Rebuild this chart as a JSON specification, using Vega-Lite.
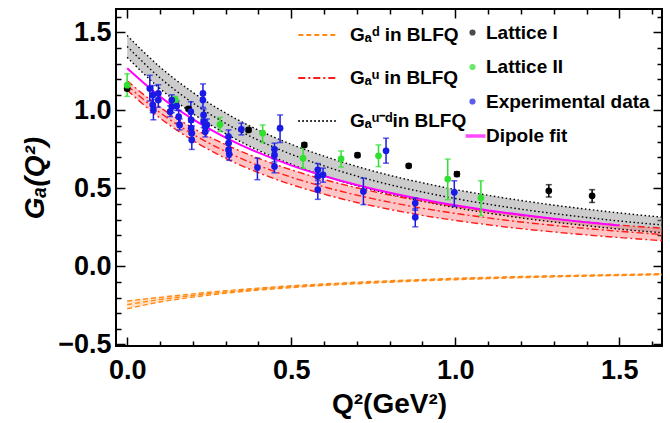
{
  "$schema": "https://vega.github.io/schema/vega-lite/v6.json",
  "width": 546,
  "height": 337,
  "autosize": {"type": "none"},
  "padding": {"left": 116, "top": 9, "right": 8, "bottom": 77},
  "background": "white",
  "config": {
    "view": {"stroke": "black", "strokeWidth": 2},
    "font": "Liberation Sans"
  },
  "datasets": {
    "bands": [
      {"curve": "u-d", "q2": 0, "lo": 1.34, "mid": 1.41, "hi": 1.48},
      {"curve": "u-d", "q2": 0.1, "lo": 1.14, "mid": 1.209, "hi": 1.278},
      {"curve": "u-d", "q2": 0.2, "lo": 0.98, "mid": 1.048, "hi": 1.116},
      {"curve": "u-d", "q2": 0.3, "lo": 0.851, "mid": 0.917, "hi": 0.983},
      {"curve": "u-d", "q2": 0.4, "lo": 0.744, "mid": 0.809, "hi": 0.874},
      {"curve": "u-d", "q2": 0.5, "lo": 0.655, "mid": 0.719, "hi": 0.783},
      {"curve": "u-d", "q2": 0.6, "lo": 0.581, "mid": 0.644, "hi": 0.707},
      {"curve": "u-d", "q2": 0.7, "lo": 0.517, "mid": 0.579, "hi": 0.641},
      {"curve": "u-d", "q2": 0.8, "lo": 0.464, "mid": 0.524, "hi": 0.584},
      {"curve": "u-d", "q2": 0.9, "lo": 0.418, "mid": 0.477, "hi": 0.536},
      {"curve": "u-d", "q2": 1.0, "lo": 0.377, "mid": 0.435, "hi": 0.493},
      {"curve": "u-d", "q2": 1.1, "lo": 0.342, "mid": 0.399, "hi": 0.456},
      {"curve": "u-d", "q2": 1.2, "lo": 0.311, "mid": 0.367, "hi": 0.423},
      {"curve": "u-d", "q2": 1.3, "lo": 0.285, "mid": 0.339, "hi": 0.393},
      {"curve": "u-d", "q2": 1.4, "lo": 0.261, "mid": 0.314, "hi": 0.367},
      {"curve": "u-d", "q2": 1.5, "lo": 0.239, "mid": 0.291, "hi": 0.343},
      {"curve": "u-d", "q2": 1.63, "lo": 0.216, "mid": 0.266, "hi": 0.316},
      {"curve": "u", "q2": 0, "lo": 1.13, "mid": 1.16, "hi": 1.19},
      {"curve": "u", "q2": 0.1, "lo": 0.951, "mid": 0.986, "hi": 1.021},
      {"curve": "u", "q2": 0.2, "lo": 0.808, "mid": 0.848, "hi": 0.888},
      {"curve": "u", "q2": 0.3, "lo": 0.693, "mid": 0.737, "hi": 0.781},
      {"curve": "u", "q2": 0.4, "lo": 0.601, "mid": 0.647, "hi": 0.693},
      {"curve": "u", "q2": 0.5, "lo": 0.525, "mid": 0.572, "hi": 0.619},
      {"curve": "u", "q2": 0.6, "lo": 0.463, "mid": 0.51, "hi": 0.557},
      {"curve": "u", "q2": 0.7, "lo": 0.41, "mid": 0.457, "hi": 0.504},
      {"curve": "u", "q2": 0.8, "lo": 0.366, "mid": 0.412, "hi": 0.458},
      {"curve": "u", "q2": 0.9, "lo": 0.327, "mid": 0.373, "hi": 0.419},
      {"curve": "u", "q2": 1.0, "lo": 0.295, "mid": 0.34, "hi": 0.385},
      {"curve": "u", "q2": 1.1, "lo": 0.267, "mid": 0.311, "hi": 0.355},
      {"curve": "u", "q2": 1.2, "lo": 0.242, "mid": 0.285, "hi": 0.328},
      {"curve": "u", "q2": 1.3, "lo": 0.221, "mid": 0.263, "hi": 0.305},
      {"curve": "u", "q2": 1.4, "lo": 0.202, "mid": 0.243, "hi": 0.284},
      {"curve": "u", "q2": 1.5, "lo": 0.185, "mid": 0.225, "hi": 0.265},
      {"curve": "u", "q2": 1.63, "lo": 0.165, "mid": 0.205, "hi": 0.245},
      {"curve": "d", "q2": 0, "lo": -0.272, "mid": -0.245, "hi": -0.222},
      {"curve": "d", "q2": 0.1, "lo": -0.228, "mid": -0.212, "hi": -0.198},
      {"curve": "d", "q2": 0.2, "lo": -0.197, "mid": -0.186, "hi": -0.176},
      {"curve": "d", "q2": 0.3, "lo": -0.172, "mid": -0.164, "hi": -0.156},
      {"curve": "d", "q2": 0.4, "lo": -0.152, "mid": -0.146, "hi": -0.139},
      {"curve": "d", "q2": 0.5, "lo": -0.136, "mid": -0.13, "hi": -0.124},
      {"curve": "d", "q2": 0.6, "lo": -0.122, "mid": -0.117, "hi": -0.112},
      {"curve": "d", "q2": 0.7, "lo": -0.111, "mid": -0.106, "hi": -0.101},
      {"curve": "d", "q2": 0.8, "lo": -0.101, "mid": -0.096, "hi": -0.092},
      {"curve": "d", "q2": 0.9, "lo": -0.092, "mid": -0.088, "hi": -0.084},
      {"curve": "d", "q2": 1.0, "lo": -0.085, "mid": -0.0805, "hi": -0.076},
      {"curve": "d", "q2": 1.1, "lo": -0.078, "mid": -0.074, "hi": -0.07},
      {"curve": "d", "q2": 1.2, "lo": -0.072, "mid": -0.068, "hi": -0.065},
      {"curve": "d", "q2": 1.3, "lo": -0.067, "mid": -0.063, "hi": -0.06},
      {"curve": "d", "q2": 1.4, "lo": -0.062, "mid": -0.059, "hi": -0.056},
      {"curve": "d", "q2": 1.5, "lo": -0.058, "mid": -0.055, "hi": -0.052},
      {"curve": "d", "q2": 1.63, "lo": -0.053, "mid": -0.05, "hi": -0.047}
    ],
    "dipole": [
      {"set": "Dipole fit", "q2": 0, "g": 1.27},
      {"set": "Dipole fit", "q2": 0.1, "g": 1.089},
      {"set": "Dipole fit", "q2": 0.2, "g": 0.944},
      {"set": "Dipole fit", "q2": 0.3, "g": 0.826},
      {"set": "Dipole fit", "q2": 0.4, "g": 0.729},
      {"set": "Dipole fit", "q2": 0.5, "g": 0.648},
      {"set": "Dipole fit", "q2": 0.6, "g": 0.58},
      {"set": "Dipole fit", "q2": 0.7, "g": 0.522},
      {"set": "Dipole fit", "q2": 0.8, "g": 0.472},
      {"set": "Dipole fit", "q2": 0.9, "g": 0.429},
      {"set": "Dipole fit", "q2": 1.0, "g": 0.392},
      {"set": "Dipole fit", "q2": 1.1, "g": 0.359},
      {"set": "Dipole fit", "q2": 1.2, "g": 0.331},
      {"set": "Dipole fit", "q2": 1.3, "g": 0.305},
      {"set": "Dipole fit", "q2": 1.4, "g": 0.283},
      {"set": "Dipole fit", "q2": 1.5, "g": 0.262}
    ],
    "pts": [
      {"set": "Lattice I", "q2": 0.0, "g": 1.14, "lo": 1.128, "hi": 1.152},
      {"set": "Lattice I", "q2": 0.187, "g": 1.01, "lo": 0.998, "hi": 1.022},
      {"set": "Lattice I", "q2": 0.37, "g": 0.875, "lo": 0.864, "hi": 0.886},
      {"set": "Lattice I", "q2": 0.54, "g": 0.779, "lo": 0.767, "hi": 0.791},
      {"set": "Lattice I", "q2": 0.702, "g": 0.713, "lo": 0.701, "hi": 0.725},
      {"set": "Lattice I", "q2": 0.858, "g": 0.645, "lo": 0.634, "hi": 0.656},
      {"set": "Lattice I", "q2": 1.005, "g": 0.592, "lo": 0.577, "hi": 0.607},
      {"set": "Lattice I", "q2": 1.285, "g": 0.485, "lo": 0.445, "hi": 0.524},
      {"set": "Lattice I", "q2": 1.417, "g": 0.453, "lo": 0.41, "hi": 0.492},
      {"set": "Lattice II", "q2": 0.0, "g": 1.162, "lo": 1.09, "hi": 1.235},
      {"set": "Lattice II", "q2": 0.147, "g": 1.066, "lo": 1.045, "hi": 1.09},
      {"set": "Lattice II", "q2": 0.283, "g": 0.91, "lo": 0.865, "hi": 0.955},
      {"set": "Lattice II", "q2": 0.413, "g": 0.854, "lo": 0.794, "hi": 0.907},
      {"set": "Lattice II", "q2": 0.536, "g": 0.694, "lo": 0.63, "hi": 0.762},
      {"set": "Lattice II", "q2": 0.652, "g": 0.69, "lo": 0.637, "hi": 0.74},
      {"set": "Lattice II", "q2": 0.766, "g": 0.709, "lo": 0.64, "hi": 0.779},
      {"set": "Lattice II", "q2": 0.977, "g": 0.56, "lo": 0.428, "hi": 0.688},
      {"set": "Lattice II", "q2": 1.078, "g": 0.439, "lo": 0.326, "hi": 0.549},
      {"set": "Experimental data", "q2": 0.069, "g": 1.14, "lo": 1.06, "hi": 1.225},
      {"set": "Experimental data", "q2": 0.078, "g": 1.098, "lo": 1.04, "hi": 1.16},
      {"set": "Experimental data", "q2": 0.078, "g": 1.035, "lo": 0.985, "hi": 1.085},
      {"set": "Experimental data", "q2": 0.08, "g": 1.003, "lo": 0.94, "hi": 1.07},
      {"set": "Experimental data", "q2": 0.095, "g": 1.109, "lo": 1.06, "hi": 1.165},
      {"set": "Experimental data", "q2": 0.095, "g": 1.066, "lo": 1.02, "hi": 1.11},
      {"set": "Experimental data", "q2": 0.131, "g": 0.992, "lo": 0.96, "hi": 1.03},
      {"set": "Experimental data", "q2": 0.136, "g": 1.066, "lo": 1.03, "hi": 1.1},
      {"set": "Experimental data", "q2": 0.136, "g": 1.024, "lo": 0.985, "hi": 1.06},
      {"set": "Experimental data", "q2": 0.151, "g": 1.028, "lo": 1.0, "hi": 1.06},
      {"set": "Experimental data", "q2": 0.157, "g": 0.96, "lo": 0.92, "hi": 1.0},
      {"set": "Experimental data", "q2": 0.16, "g": 0.907, "lo": 0.875, "hi": 0.945},
      {"set": "Experimental data", "q2": 0.194, "g": 0.992, "lo": 0.95, "hi": 1.055},
      {"set": "Experimental data", "q2": 0.195, "g": 0.939, "lo": 0.9, "hi": 0.98},
      {"set": "Experimental data", "q2": 0.195, "g": 0.886, "lo": 0.85, "hi": 0.925},
      {"set": "Experimental data", "q2": 0.197, "g": 0.854, "lo": 0.81, "hi": 0.9},
      {"set": "Experimental data", "q2": 0.197, "g": 0.811, "lo": 0.75, "hi": 0.86},
      {"set": "Experimental data", "q2": 0.231, "g": 1.109, "lo": 1.06, "hi": 1.17},
      {"set": "Experimental data", "q2": 0.231, "g": 1.066, "lo": 1.02, "hi": 1.11},
      {"set": "Experimental data", "q2": 0.233, "g": 0.971, "lo": 0.93, "hi": 1.01},
      {"set": "Experimental data", "q2": 0.233, "g": 0.928, "lo": 0.89, "hi": 0.97},
      {"set": "Experimental data", "q2": 0.238, "g": 0.896, "lo": 0.86, "hi": 0.935},
      {"set": "Experimental data", "q2": 0.238, "g": 0.864, "lo": 0.83, "hi": 0.9},
      {"set": "Experimental data", "q2": 0.243, "g": 0.907, "lo": 0.87, "hi": 0.945},
      {"set": "Experimental data", "q2": 0.309, "g": 0.832, "lo": 0.79, "hi": 0.875},
      {"set": "Experimental data", "q2": 0.309, "g": 0.79, "lo": 0.75, "hi": 0.83},
      {"set": "Experimental data", "q2": 0.309, "g": 0.747, "lo": 0.7, "hi": 0.79},
      {"set": "Experimental data", "q2": 0.311, "g": 0.72, "lo": 0.68, "hi": 0.76},
      {"set": "Experimental data", "q2": 0.348, "g": 0.879, "lo": 0.843, "hi": 0.918},
      {"set": "Experimental data", "q2": 0.397, "g": 0.634, "lo": 0.556, "hi": 0.694},
      {"set": "Experimental data", "q2": 0.449, "g": 0.751, "lo": 0.71, "hi": 0.79},
      {"set": "Experimental data", "q2": 0.449, "g": 0.715, "lo": 0.67, "hi": 0.76},
      {"set": "Experimental data", "q2": 0.449, "g": 0.641, "lo": 0.6, "hi": 0.69},
      {"set": "Experimental data", "q2": 0.466, "g": 0.886, "lo": 0.794, "hi": 0.971},
      {"set": "Experimental data", "q2": 0.581, "g": 0.619, "lo": 0.57, "hi": 0.66},
      {"set": "Experimental data", "q2": 0.581, "g": 0.577, "lo": 0.53, "hi": 0.62},
      {"set": "Experimental data", "q2": 0.581, "g": 0.492, "lo": 0.43, "hi": 0.55},
      {"set": "Experimental data", "q2": 0.597, "g": 0.587, "lo": 0.54, "hi": 0.63},
      {"set": "Experimental data", "q2": 0.72, "g": 0.481, "lo": 0.396, "hi": 0.566},
      {"set": "Experimental data", "q2": 0.789, "g": 0.741, "lo": 0.662, "hi": 0.822},
      {"set": "Experimental data", "q2": 0.878, "g": 0.406, "lo": 0.36, "hi": 0.438},
      {"set": "Experimental data", "q2": 0.878, "g": 0.315, "lo": 0.254, "hi": 0.37},
      {"set": "Experimental data", "q2": 0.997, "g": 0.475, "lo": 0.385, "hi": 0.549}
    ]
  },
  "resolve": {"axis": {"x": "independent", "y": "independent"}},
  "layer": [
    {
      "data": {"name": "bands"},
      "transform": [{"filter": "datum.curve == 'u-d'"}],
      "mark": {"type": "area", "color": "#9a9a9a", "opacity": 0.5, "interpolate": "monotone", "clip": true},
      "encoding": {
        "x": {"field": "q2", "type": "quantitative", "scale": {"domain": [-0.034, 1.63], "nice": false, "zero": false},
          "axis": {"orient": "bottom", "values": [0, 0.1, 0.2, 0.3, 0.4, 0.5, 0.6, 0.7, 0.8, 0.9, 1, 1.1, 1.2, 1.3, 1.4, 1.5, 1.6],
            "labelExpr": "abs(datum.value*2-round(datum.value*2))<0.001 ? format(datum.value,'.1f') : ''",
            "tickSize": {"condition": {"test": "abs(datum.value*2-round(datum.value*2))<0.001", "value": -9}, "value": -5},
            "tickWidth": 1.5, "tickColor": "black", "domain": false, "grid": false,
            "labelFont": "Liberation Sans", "labelFontSize": 27, "labelFontWeight": "bold", "labelColor": "black",
            "labelPadding": 20, "labelFlush": false, "labelOverlap": false, "labelBound": false,
            "title": "Q²(GeV²)", "titleFont": "Liberation Sans", "titleFontSize": 28, "titleFontWeight": "bold", "titleColor": "black", "titlePadding": 3}},
        "y": {"field": "lo", "type": "quantitative", "scale": {"domain": [-0.51, 1.65], "nice": false, "zero": false},
          "axis": {"orient": "left", "values": [-0.5, -0.4, -0.3, -0.2, -0.1, 0, 0.1, 0.2, 0.3, 0.4, 0.5, 0.6, 0.7, 0.8, 0.9, 1, 1.1, 1.2, 1.3, 1.4, 1.5, 1.6],
            "labelExpr": "abs(datum.value*2-round(datum.value*2))<0.001 ? format(datum.value,'.1f') : ''",
            "tickSize": {"condition": {"test": "abs(datum.value*2-round(datum.value*2))<0.001", "value": -9}, "value": -5},
            "tickWidth": 1.5, "tickColor": "black", "domain": false, "grid": false,
            "labelFont": "Liberation Sans", "labelFontSize": 27, "labelFontWeight": "bold", "labelColor": "black",
            "labelPadding": 14, "labelFlush": false, "labelOverlap": false, "labelBound": false,
            "title": "Gₐ(Q²)", "titleFont": "Liberation Sans", "titleFontSize": 28, "titleFontWeight": "bold", "titleFontStyle": "italic", "titleColor": "black", "titlePadding": 8}},
        "y2": {"field": "hi"}
      }
    },
    {
      "data": {"name": "bands"},
      "transform": [{"filter": "datum.curve == 'u'"}],
      "mark": {"type": "area", "color": "#ff5a5a", "opacity": 0.35, "interpolate": "monotone", "clip": true},
      "encoding": {
        "x": {"field": "q2", "type": "quantitative", "scale": {"domain": [-0.034, 1.63], "nice": false, "zero": false}, "axis": null},
        "y": {"field": "lo", "type": "quantitative", "scale": {"domain": [-0.51, 1.65], "nice": false, "zero": false}, "axis": null},
        "y2": {"field": "hi"}
      }
    },
    {
      "data": {"name": "bands"},
      "transform": [{"filter": "datum.curve == 'd'"}],
      "mark": {"type": "area", "color": "#ffb060", "opacity": 0.35, "interpolate": "monotone", "clip": true},
      "encoding": {
        "x": {"field": "q2", "type": "quantitative", "scale": {"domain": [-0.034, 1.63], "nice": false, "zero": false}, "axis": null},
        "y": {"field": "lo", "type": "quantitative", "scale": {"domain": [-0.51, 1.65], "nice": false, "zero": false}, "axis": null},
        "y2": {"field": "hi"}
      }
    },
    {
      "mark": {"type": "rule", "color": "#a6a6a6", "strokeWidth": 1.5},
      "encoding": {
        "y": {"datum": 0, "type": "quantitative", "scale": {"domain": [-0.51, 1.65], "nice": false, "zero": false}, "axis": null}
      }
    },
    {
      "data": {"name": "bands"},
      "mark": {"type": "line", "strokeWidth": 1.4, "interpolate": "monotone", "clip": true},
      "encoding": {
        "x": {"field": "q2", "type": "quantitative", "scale": {"domain": [-0.034, 1.63], "nice": false, "zero": false}, "axis": null},
        "y": {"field": "lo", "type": "quantitative", "scale": {"domain": [-0.51, 1.65], "nice": false, "zero": false}, "axis": null},
        "stroke": {"field": "curve", "type": "nominal", "scale": {"domain": ["d", "u", "u-d"], "range": ["#ff8a14", "#ff1a1a", "#000000"]},
          "legend": {"orient": "none", "legendX": 181, "legendY": 6, "title": null, "padding": 0, "labelLimit": 0,
            "labelFont": "Liberation Sans", "labelFontSize": 19, "labelFontWeight": "bold", "labelColor": "black",
            "symbolSize": 1400, "symbolStrokeWidth": 1.8, "symbolType": "stroke", "rowPadding": 13, "labelOffset": 13,
            "labelExpr": "datum.label == 'd' ? 'Gₐᵈ in BLFQ' : datum.label == 'u' ? 'Gₐᵘ in BLFQ' : 'Gₐᵘ⁻ᵈin BLFQ'"}},
        "strokeDash": {"field": "curve", "type": "nominal", "scale": {"domain": ["d", "u", "u-d"], "range": [[5, 3], [7, 3, 2, 3], [1.5, 2.5]]},
          "legend": {"orient": "none", "legendX": 181, "legendY": 6, "title": null, "padding": 0, "labelLimit": 0,
            "labelFont": "Liberation Sans", "labelFontSize": 19, "labelFontWeight": "bold", "labelColor": "black",
            "symbolSize": 1400, "symbolStrokeWidth": 1.8, "symbolType": "stroke", "rowPadding": 13, "labelOffset": 13,
            "labelExpr": "datum.label == 'd' ? 'Gₐᵈ in BLFQ' : datum.label == 'u' ? 'Gₐᵘ in BLFQ' : 'Gₐᵘ⁻ᵈin BLFQ'"}}
      }
    },
    {
      "data": {"name": "bands"},
      "mark": {"type": "line", "strokeWidth": 1.4, "interpolate": "monotone", "clip": true},
      "encoding": {
        "x": {"field": "q2", "type": "quantitative", "scale": {"domain": [-0.034, 1.63], "nice": false, "zero": false}, "axis": null},
        "y": {"field": "mid", "type": "quantitative", "scale": {"domain": [-0.51, 1.65], "nice": false, "zero": false}, "axis": null},
        "stroke": {"field": "curve", "type": "nominal"},
        "strokeDash": {"field": "curve", "type": "nominal"}
      }
    },
    {
      "data": {"name": "bands"},
      "mark": {"type": "line", "strokeWidth": 1.4, "interpolate": "monotone", "clip": true},
      "encoding": {
        "x": {"field": "q2", "type": "quantitative", "scale": {"domain": [-0.034, 1.63], "nice": false, "zero": false}, "axis": null},
        "y": {"field": "hi", "type": "quantitative", "scale": {"domain": [-0.51, 1.65], "nice": false, "zero": false}, "axis": null},
        "stroke": {"field": "curve", "type": "nominal"},
        "strokeDash": {"field": "curve", "type": "nominal"}
      }
    },
    {
      "data": {"name": "dipole"},
      "mark": {"type": "line", "strokeWidth": 2, "interpolate": "monotone", "clip": true},
      "encoding": {
        "x": {"field": "q2", "type": "quantitative", "scale": {"domain": [-0.034, 1.63], "nice": false, "zero": false},
          "axis": {"orient": "top", "values": [0, 0.1, 0.2, 0.3, 0.4, 0.5, 0.6, 0.7, 0.8, 0.9, 1, 1.1, 1.2, 1.3, 1.4, 1.5, 1.6], "labels": false,
            "tickSize": {"condition": {"test": "abs(datum.value*2-round(datum.value*2))<0.001", "value": -9}, "value": -5},
            "tickWidth": 1.5, "tickColor": "black", "domain": false, "grid": false, "title": null}},
        "y": {"field": "g", "type": "quantitative", "scale": {"domain": [-0.51, 1.65], "nice": false, "zero": false},
          "axis": {"orient": "right", "values": [-0.5, -0.4, -0.3, -0.2, -0.1, 0, 0.1, 0.2, 0.3, 0.4, 0.5, 0.6, 0.7, 0.8, 0.9, 1, 1.1, 1.2, 1.3, 1.4, 1.5, 1.6], "labels": false,
            "tickSize": {"condition": {"test": "abs(datum.value*2-round(datum.value*2))<0.001", "value": -9}, "value": -5},
            "tickWidth": 1.5, "tickColor": "black", "domain": false, "grid": false, "title": null}},
        "color": {"field": "set", "type": "nominal",
          "scale": {"domain": ["Lattice I", "Lattice II", "Experimental data", "Dipole fit"], "range": ["#000000", "#2fe02f", "#1a1ae6", "#ff00ff"]},
          "legend": {"orient": "none", "legendX": 347, "legendY": 14, "title": null, "padding": 0, "labelLimit": 0,
            "labelFont": "Liberation Sans", "labelFontSize": 19, "labelFontWeight": "bold", "labelColor": "black",
            "symbolSize": 22, "rowPadding": 14.5, "labelOffset": 4,
            "labelExpr": "datum.label == 'Dipole fit' ? '\u2002Dipole fit' : datum.label"}}
      }
    },
    {
      "data": {"name": "pts"},
      "mark": {"type": "rule", "strokeWidth": 1.5},
      "encoding": {
        "x": {"field": "q2", "type": "quantitative", "scale": {"domain": [-0.034, 1.63], "nice": false, "zero": false}, "axis": null},
        "y": {"field": "lo", "type": "quantitative", "scale": {"domain": [-0.51, 1.65], "nice": false, "zero": false}, "axis": null},
        "y2": {"field": "hi"},
        "color": {"field": "set", "type": "nominal"}
      }
    },
    {
      "data": {"name": "pts"},
      "mark": {"type": "tick", "orient": "horizontal", "size": 6, "thickness": 1.5},
      "encoding": {
        "x": {"field": "q2", "type": "quantitative", "scale": {"domain": [-0.034, 1.63], "nice": false, "zero": false}, "axis": null},
        "y": {"field": "lo", "type": "quantitative", "scale": {"domain": [-0.51, 1.65], "nice": false, "zero": false}, "axis": null},
        "color": {"field": "set", "type": "nominal"}
      }
    },
    {
      "data": {"name": "pts"},
      "mark": {"type": "tick", "orient": "horizontal", "size": 6, "thickness": 1.5},
      "encoding": {
        "x": {"field": "q2", "type": "quantitative", "scale": {"domain": [-0.034, 1.63], "nice": false, "zero": false}, "axis": null},
        "y": {"field": "hi", "type": "quantitative", "scale": {"domain": [-0.51, 1.65], "nice": false, "zero": false}, "axis": null},
        "color": {"field": "set", "type": "nominal"}
      }
    },
    {
      "data": {"name": "pts"},
      "mark": {"type": "point", "filled": true, "opacity": 1, "size": 45},
      "encoding": {
        "x": {"field": "q2", "type": "quantitative", "scale": {"domain": [-0.034, 1.63], "nice": false, "zero": false}, "axis": null},
        "y": {"field": "g", "type": "quantitative", "scale": {"domain": [-0.51, 1.65], "nice": false, "zero": false}, "axis": null},
        "color": {"field": "set", "type": "nominal"},
        "shape": {"field": "set", "type": "nominal",
          "scale": {"domain": ["Lattice I", "Lattice II", "Experimental data", "Dipole fit"], "range": ["circle", "circle", "circle", "M-2.6,-0.42H5.2V0.42H-2.6Z"]},
          "legend": {"orient": "none", "legendX": 347, "legendY": 14, "title": null, "padding": 0, "labelLimit": 0,
            "labelFont": "Liberation Sans", "labelFontSize": 19, "labelFontWeight": "bold", "labelColor": "black",
            "symbolSize": 22, "rowPadding": 14.5, "labelOffset": 4,
            "labelExpr": "datum.label == 'Dipole fit' ? '\u2002Dipole fit' : datum.label"}}
      }
    }
  ]
}
